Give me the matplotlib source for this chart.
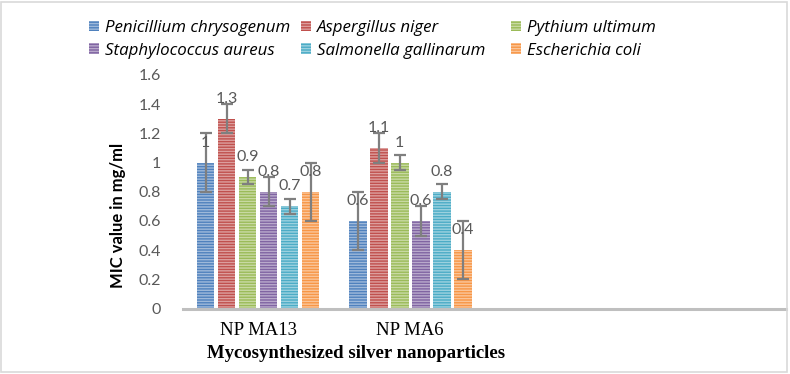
import matplotlib
matplotlib.use("Agg")
import matplotlib.pyplot as plt
from matplotlib.patches import Rectangle
import numpy as np

# ==============================
# MIC values of silver nanoparticles
# ==============================

groups = ["NP MA13", "NP MA6"]

organisms = [
    "Penicillium chrysogenum",
    "Aspergillus niger",
    "Pythium ultimum",
    "Staphylococcus aureus",
    "Salmonella gallinarum",
    "Escherichia coli",
]

# MIC value for each organism, order = groups
mic_values = [
    [1.0, 0.6],
    [1.3, 1.1],
    [0.9, 1.0],
    [0.8, 0.6],
    [0.7, 0.8],
    [0.8, 0.4],
]

# error bar size
mic_errors = [
    [0.2, 0.2],
    [0.1, 0.1],
    [0.05, 0.05],
    [0.1, 0.1],
    [0.05, 0.05],
    [0.2, 0.2],
]

colors = ["#4f81bd", "#c0504d", "#9bbb59", "#8064a2", "#4bacc6", "#f79646"]

y_ticks = [0, 0.2, 0.4, 0.6, 0.8, 1, 1.2, 1.4, 1.6]

plt.rcParams["font.family"] = ["Lato", "DejaVu Sans"]
plt.rcParams["hatch.linewidth"] = 1.0

W, H = 790, 374
fig = plt.figure(figsize=(W / 100, H / 100), dpi=100)
ax = fig.add_axes([183 / W, (H - 308.5) / H, (786 - 183) / W, (308.5 - 75) / H])

x = np.arange(len(groups))
step = 0.138
width = 0.118
gray_text = "#595959"

handles = []
for i, name in enumerate(organisms):
    pos = x + (i - 2.5) * step
    bars = ax.bar(
        pos,
        mic_values[i],
        width,
        color=colors[i],
        edgecolor=(1, 1, 1, 0.45),
        linewidth=0,
        hatch="------",
        label=name,
    )
    handles.append(bars)
    ax.errorbar(
        pos,
        mic_values[i],
        yerr=mic_errors[i],
        fmt="none",
        ecolor="#7f7f7f",
        elinewidth=1.6,
        capsize=4,
        capthick=1.6,
    )
    # value labels
    for p, v in zip(pos, mic_values[i]):
        ax.annotate(
            f"{v:g}",
            (p, v),
            xytext=(0, 11.5),
            textcoords="offset points",
            ha="center",
            va="baseline",
            fontsize=11.5,
            color=gray_text,
        )

ax.set_ylim(0, 1.6)
ax.set_xlim(-0.493, 3.47)
ax.set_yticks(y_ticks)
ax.set_yticklabels([f"{t:g}" for t in y_ticks])
ax.tick_params(axis="y", length=0, pad=16, labelsize=11.5, labelcolor=gray_text)

ax.set_xticks(x)
ax.set_xticklabels(groups, family="Liberation Serif", fontsize=13.5)
ax.tick_params(axis="x", length=0, pad=10)

for s in ["top", "right", "left"]:
    ax.spines[s].set_visible(False)
ax.spines["bottom"].set_color("#bfbfbf")
ax.spines["bottom"].set_linewidth(2.2)

# axis titles
fig.text(356 / W, (H - 353) / H, "Mycosynthesized silver nanoparticles",
         ha="center", va="center", family="Liberation Serif",
         fontweight="bold", fontsize=13.5)
fig.text(118 / W, (H - 215) / H, "MIC value in mg/ml",
         ha="center", va="center", rotation=90,
         fontweight="bold", fontsize=12)

# legend: 3 columns with equal width
col_x = [89, 301, 511]
for c in range(3):
    hs = [handles[c], handles[c + 3]]
    ls = [organisms[c], organisms[c + 3]]
    leg = fig.legend(
        hs, ls,
        loc="upper left",
        bbox_to_anchor=(col_x[c] / W, (H - 20) / H),
        frameon=False,
        prop={"family": "Open Sans", "style": "italic", "size": 12.2},
        handlelength=0.6,
        handleheight=0.6,
        handletextpad=0.35,
        labelspacing=0.4,
        borderpad=0,
        borderaxespad=0,
    )

# outer frame
fig.add_artist(Rectangle((1 / W, 2 / H), 786 / W, 370 / H,
                         transform=fig.transFigure, fill=False,
                         edgecolor="#d9d9d9", linewidth=1.2))

fig.savefig("out.png", dpi=100)
